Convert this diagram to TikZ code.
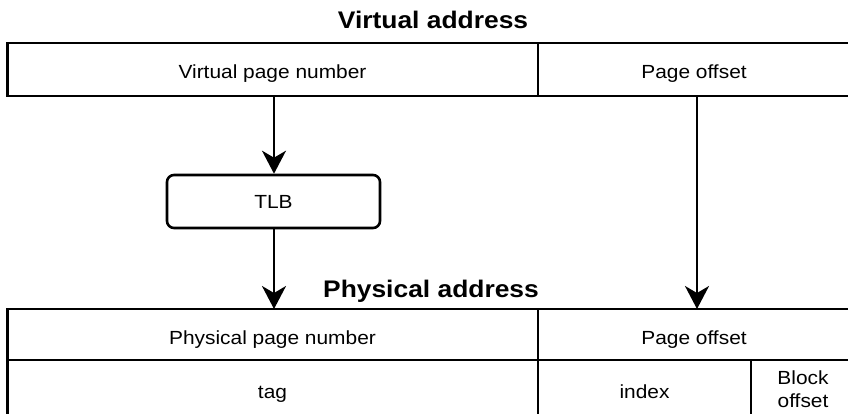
\documentclass[tikz,border=0pt]{standalone}
\usepackage{fontspec}
\setmainfont[FakeStretch=1.1]{Liberation Sans}
\usetikzlibrary{arrows.meta}
\begin{document}
\begin{tikzpicture}[x=1pt,y=-1pt,
  field/.style={draw=black,line width=2.6pt},
  lbl/.style={font=\fontsize{19}{23}\selectfont,inner sep=0pt,anchor=base},
  title/.style={font=\fontsize{24}{28}\selectfont\bfseries,inner sep=0pt,anchor=base},
  flow/.style={line width=2.4pt,-{Stealth[length=23pt,width=24pt,inset=7pt]}},
  tlbbox/.style={draw=black,line width=2.6pt,rounded corners=7pt,fill=white,
    inner sep=0pt,font=\fontsize{19}{23}\selectfont}]
\useasboundingbox (0,0) rectangle (848,413);

% virtual address
\node[title] (vtitle) at (433,28) {Virtual address};
\draw[field] (7.5,43) rectangle (852,96);
\draw[field] (538,43) -- (538,96);
\node[lbl] (vpn) at (272.5,78) {Virtual page number};
\node[lbl] (voff) at (694,78) {Page offset};
\coordinate (vpnout) at (274,96);
\coordinate (voffout) at (697,96);

% translation lookaside buffer
\node[tlbbox,minimum width=213pt,minimum height=53pt] (tlb) at (273.5,201.5) {TLB};

% physical address
\node[title] (ptitle) at (431,297) {Physical address};
\draw[field] (7.5,309) rectangle (852,418);
\draw[field] (7.5,360) -- (852,360);
\draw[field] (538,309) -- (538,418);
\draw[field] (751,360) -- (751,418);
\coordinate (ppnin) at (274,309);
\coordinate (poffin) at (697,309);
\node[lbl] (ppn) at (272.5,344) {Physical page number};
\node[lbl] (poff) at (694,344) {Page offset};
\node[lbl] (tag) at (272.5,398) {tag};
\node[lbl] (idx) at (644.5,398) {index};
\node[lbl] (boff1) at (803,384) {Block};
\node[lbl] (boff2) at (803,407) {offset};

% connectors
\draw[flow] (vpnout) -- (vpnout |- tlb.north);
\draw[flow] (ppnin |- tlb.south) -- (ppnin);
\draw[flow] (voffout) -- (poffin);
\end{tikzpicture}
\end{document}
